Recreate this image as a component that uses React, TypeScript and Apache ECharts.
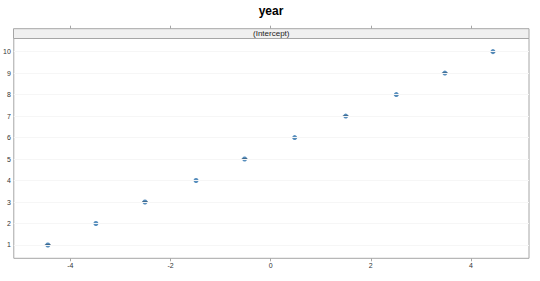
import React, { useEffect, useRef } from "react";
import * as echarts from "echarts";

const levels = [1, 2, 3, 4, 5, 6, 7, 8, 9, 10];
const effects = [-4.45, -3.49, -2.51, -1.49, -0.52, 0.48, 1.5, 2.51, 3.48, 4.44];
const xTicks = [-4, -2, 0, 2, 4];
const title = "year";
const stripLabel = "(Intercept)";

export default function App() {
  const ref = useRef<HTMLDivElement>(null);
  useEffect(() => {
    const chart = echarts.init(ref.current!, null, { renderer: "svg" });
    const left = 13.5;
    const right = 11;
    const top = 38.5;
    const bottom = 22.7;
    const stripH = 9.8;
    const pts = levels.map((y, i) => [effects[i], y]);
    chart.setOption({
      animation: false,
      backgroundColor: "#ffffff",
      textStyle: { fontFamily: "Liberation Sans, Arial, sans-serif" },
      title: {
        text: title,
        left: 266,
        textAlign: "center",
        top: 0,
        textStyle: { fontSize: 12, fontWeight: "bold", color: "#000", fontFamily: "Liberation Sans, Arial, sans-serif" },
      },
      grid: { left, right, top, bottom, show: true, borderColor: "#a6a6a6", borderWidth: 1, backgroundColor: "#fff" },
      xAxis: [
        {
          type: "value",
          min: -5.13,
          max: 5.16,
          position: "bottom",
          axisLine: { show: false },
          splitLine: { show: false },
          axisTick: { show: true, customValues: xTicks, length: 3, lineStyle: { color: "#a6a6a6" } },
          axisLabel: { customValues: xTicks, fontSize: 7, color: "#333", margin: 4 },
        },
        {
          type: "value",
          min: -5.13,
          max: 5.16,
          position: "top",
          offset: stripH,
          axisLine: { show: false },
          splitLine: { show: false },
          axisTick: { show: true, customValues: xTicks, length: 3, lineStyle: { color: "#a6a6a6" } },
          axisLabel: { show: false },
        },
      ],
      yAxis: {
        type: "value",
        min: 0.38,
        max: 10.61,
        axisLine: { show: false },
        splitLine: { show: false },
        axisTick: { show: false },
        axisLabel: { customValues: levels, fontSize: 7, color: "#333", margin: 3 },
      },
      graphic: [
        {
          type: "rect",
          shape: { x: left, y: top - stripH, width: 540 - left - right, height: stripH },
          style: { fill: "#f0f0f0", stroke: "#a6a6a6", lineWidth: 1 },
          silent: true,
        },
        {
          type: "text",
          x: (left + 540 - right) / 2,
          y: top - stripH / 2,
          style: { text: stripLabel, fontSize: 8, fill: "#222", align: "center", verticalAlign: "middle", fontFamily: "Liberation Sans, Arial, sans-serif" },
          silent: true,
        },
      ],
      series: [
        {
          type: "scatter",
          data: pts,
          symbol: "circle",
          symbolSize: 5,
          itemStyle: { color: "#2d72ad" },
          z: 3,
          markLine: {
            silent: true,
            symbol: "none",
            label: { show: false },
            lineStyle: { color: "#f6f6f6", width: 1, type: "solid" },
            data: levels.map((y) => ({ yAxis: y })),
          },
        },
        {
          type: "scatter",
          data: pts,
          symbol: "rect",
          symbolSize: [6, 1],
          itemStyle: { color: "#1c3347" },
          z: 4,
        },
      ],
    });
    return () => chart.dispose();
  }, []);
  return <div ref={ref} style={{ position: "fixed", left: 0, top: 0, width: 540, height: 281 }} />;
}
